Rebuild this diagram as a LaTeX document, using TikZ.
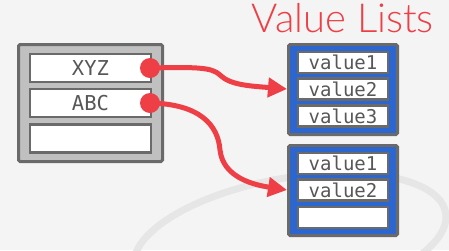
\documentclass[tikz,border=0pt]{standalone}
\usepackage{fontspec}
\usetikzlibrary{arrows.meta}
\newfontfamily\cellfont{DejaVu Sans Mono}
\newfontfamily\titlefont{Lato Light}
\definecolor{bgcol}{HTML}{F4F4F4}
\definecolor{ringcol}{HTML}{E6E6E6}
\definecolor{framecol}{HTML}{6A6A6A}
\definecolor{grayfill}{HTML}{C0C0C0}
\definecolor{listblue}{HTML}{2C66D1}
\definecolor{ptrred}{HTML}{EE3E46}
\definecolor{celltext}{HTML}{575757}
\tikzset{
  keybox/.style={draw=framecol, fill=grayfill, line width=3pt, rounded corners=1.5pt,
    minimum width=144pt, minimum height=117pt, inner sep=0pt},
  keycell/.style={draw=framecol, fill=white, line width=2.5pt,
    minimum width=121pt, minimum height=28pt, inner sep=0pt,
    font=\cellfont\fontsize{20.5}{20.5}\selectfont, text=celltext},
  listbox/.style={draw=framecol, fill=listblue, line width=3pt, rounded corners=1.5pt,
    minimum width=109pt, minimum height=90pt, inner sep=0pt},
  valcell/.style={draw=framecol, fill=white, line width=2.5pt,
    minimum width=90pt, minimum height=21pt, inner sep=0pt,
    font=\cellfont\fontsize{19}{19}\selectfont, text=celltext},
  ptrdot/.style={circle, fill=ptrred, minimum size=20pt, inner sep=0pt},
  pointer/.style={draw=ptrred, line width=5pt,
    -{Triangle[length=19pt, width=19pt]}},
}
\begin{document}
\begin{tikzpicture}[x=1pt, y=-1pt]
  % canvas
  \fill[bgcol] (0,0) rectangle (449,250);
  \useasboundingbox (0,0) rectangle (449,250);
  % faint decorative ring
  \begin{scope}
    \clip (0,0) rectangle (449,250);
    \draw[ringcol, line width=7pt, rotate around={10:(290,240)}]
      (290,240) ellipse [x radius=158, y radius=62];
  \end{scope}

  % title
  \node[anchor=base east, inner sep=0pt, text=ptrred,
        font=\titlefont\fontsize{40}{40}\selectfont] (title) at (434,32) {Value Lists};

  % key table
  \node[keybox] (keys) at (90.5,103) {};
  \node[keycell] (k1) at (90.5,68) {XYZ};
  \node[keycell] (k2) at (90.5,103) {ABC};
  \node[keycell] (k3) at (90.5,138.5) {};

  % first value list
  \node[listbox] (la) at (343,89.5) {};
  \node[valcell] (la1) at (343,62.5) {value1};
  \node[valcell] (la2) at (343,89) {value2};
  \node[valcell] (la3) at (343,116) {value3};

  % second value list
  \node[listbox] (lb) at (343,190.5) {};
  \node[valcell] (lb1) at (343,163.5) {value1};
  \node[valcell] (lb2) at (343,190) {value2};
  \node[valcell] (lb3) at (343,217.5) {};

  % pointers from keys to their lists
  \node[ptrdot] (d1) at (150,68) {};
  \node[ptrdot] (d2) at (150,103) {};
  \draw[pointer] (d1.center) .. controls (195,67) and (212,67) .. (220,75)
    .. controls (230,85) and (250,86) .. (la.west |- la2);
  \draw[pointer] (d2.center) .. controls (200,104) and (218,125) .. (220,150)
    .. controls (223,178) and (255,185) .. (lb.west |- lb2);
\end{tikzpicture}
\end{document}
